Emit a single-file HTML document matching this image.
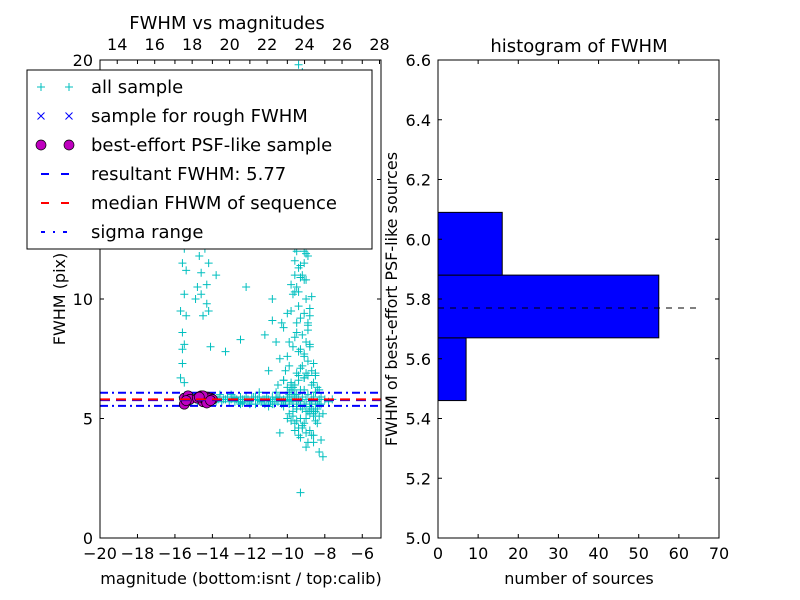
<!DOCTYPE html>
<html><head><meta charset="utf-8"><style>
body{margin:0;background:#fff;}
svg{display:block;font-family:"DejaVu Sans","Liberation Sans",sans-serif;}
</style></head><body>
<svg id="c" width="800" height="600"></svg>
<script>
// scatter data: all sample (magnitude, fwhm)
const allMag = [
-15.6,-15.5,-15.4,-15.3,-15.2,-15.1,-15.0,-14.9,-14.8,-14.7,-14.6,-14.5,-14.4,-14.3,-14.2,-14.1,-14.0,-13.9,-13.8,-13.7,-13.6,-13.5,-13.4,-13.3,-13.2,-13.1,-13.0,-12.9,-12.8,-12.7,-12.6,-12.5,-12.4,-12.3,-12.2,-12.1,-12.0,-11.9,-11.8,-11.7,-11.6,-11.5,-11.4,-11.3,-11.2,-11.1,-11.0,-10.9,-10.8,-10.7,-10.6,-10.5,-10.4,-10.3,-10.2,-10.1,-10.0,-9.9,-9.8,-9.7,-9.6,-9.5,-9.4,-9.3,-9.2,-9.1,-9.0,-8.9,-8.8,-8.7,-8.6,-8.5,-8.4,-8.3,-8.2,-8.0,-7.8,-7.6,
-13.6,-13.0,-12.5,-12.0,-11.5,-11.0,-10.6,-10.2,-9.8,-9.5,-9.1,-8.8,-8.5,-8.2,
-15.7,-15.6,-15.5,-15.6,-15.7,-15.5,-15.4,-15.6,-15.5,-15.3,-15.6,-15.4,-15.5,
-14.9,-14.8,-14.6,-14.7,-14.5,-14.4,-14.6,-14.3,-14.5,-14.2,-14.4,-14.1,-14.3,-14.6,-14.0,-13.8,-14.2,
-13.3,-12.2,-10.8,-11.6,-12.5,-11.2,
-10.3,-10.1,-10.0,-9.9,-9.8,-9.7,-9.6,-9.5,-9.4,-9.3,-9.2,-9.1,-9.0,-8.9,-8.8,-8.7,-8.6,-8.5,
-10.4,-10.2,-10.0,-9.8,-9.6,-9.4,-9.2,-9.0,-8.8,-8.6,-8.4,
-10.2,-9.9,-9.7,-9.5,-9.3,-9.1,-8.9,-8.7,-8.5,-8.3,
-10.0,-9.8,-9.6,-9.4,-9.2,-9.0,-8.8,-8.6,
-9.9,-9.7,-9.5,-9.3,-9.1,-8.9,-8.7,
-9.8,-9.6,-9.4,-9.2,-9.0,-9.7,-9.5,-9.3,-9.6,-9.4,-9.5,-9.3,-9.4,-9.2,-9.6,
-10.6,-10.8,-10.5,-11.0,-10.4,
-9.6,-9.4,-9.2,-9.0,-8.8,-8.6,-8.4,-8.2,-9.3,-8.9,-8.5,-9.8,-8.3,-8.6,-9.0,-8.1,
-9.3,-8.3,-8.6,-9.0,-8.7,-8.9,-10.6,-10.2,
-9.5,-9.3,-9.1,-8.9,-9.4,-9.2,-9.0,-8.8,-9.6,-9.3,-9.1,-8.9,-9.5,-9.2,-9.0,-8.8,-9.4,-9.1,-8.9,-8.7,
-9.5,-9.3,-9.1,-9.4,-9.2,-9.0,-9.3,-9.1,-8.9,-9.2,-9.0,-9.4,-9.2,-9.3,-9.1,-9.5,-9.3,-9.6,-9.4,-9.7,
-9.8,-9.6,-9.9,-9.7,-10.0,-9.8,-9.5,-9.7,-9.4,-9.6,
-12.6,-12.3,-12.0,-11.7,-11.4,-11.1,-10.8,-10.5,-10.2,-9.9,-12.8,-12.4,-11.9,-11.5,-11.2,-10.9,-10.6,-10.3,-10.0,-9.7,
-8.7,-8.5,-8.3,-8.1,-8.8,-8.6,-8.4,-9.0,-8.7,-8.5,
-9.9,-9.6,-9.3,-9.1,-9.4,-9.2,-9.5,-9.3,-9.7,-9.0
];
const allFwhm = [
5.9,5.8,5.7,5.9,5.8,5.7,5.9,5.8,5.7,5.8,5.9,5.8,5.7,5.9,5.8,5.7,5.8,5.9,5.7,5.8,5.9,5.7,5.8,5.8,5.9,5.7,5.8,5.9,5.7,5.8,5.7,5.9,5.8,5.7,5.9,5.8,5.7,5.8,5.9,5.6,5.8,5.9,5.7,5.8,5.6,5.9,5.8,5.7,5.9,5.6,5.8,5.7,5.9,5.6,5.8,5.7,5.9,5.6,5.8,5.7,6.0,5.6,5.8,5.7,5.9,5.6,5.8,6.0,5.7,5.8,5.9,5.6,5.7,5.8,5.9,5.8,5.7,5.8,
6.0,6.0,5.6,5.6,6.1,5.5,6.1,5.5,6.2,5.4,6.2,5.5,6.1,5.6,
6.7,7.3,8.1,8.6,9.5,10.2,11.2,11.5,12.1,12.5,7.9,9.3,6.5,
10.0,10.5,11.1,11.8,12.4,12.9,13.0,10.6,9.3,11.5,12.1,8.0,9.8,10.2,12.6,11.0,
9.5,7.8,10.5,10.0,12.4,8.3,
8.5,9.0,7.0,7.6,8.2,9.5,10.2,11.0,12.0,13.0,14.0,15.0,11.5,10.0,9.0,8.0,7.0,6.5,
6.8,7.5,8.8,9.4,10.6,11.6,12.5,13.5,10.8,9.6,7.3,
6.3,6.6,7.2,8.0,8.6,9.2,7.7,6.8,6.4,6.9,
5.1,5.0,4.9,4.8,4.6,4.7,5.0,5.2,
5.3,5.2,5.1,4.9,5.0,4.8,5.3,
16.0,17.0,18.0,19.0,19.5,14.5,15.5,16.5,17.5,18.5,19.8,13.5,12.8,14.8,16.8,
10.3,8.2,9.1,6.4,7.0,
4.4,4.5,4.3,4.6,4.4,4.5,4.3,4.8,4.1,4.2,4.0,4.9,6.4,6.2,5.2,5.5,
3.4,1.9,3.6,4.0,3.8,4.3,11.8,12.5,
6.6,6.9,7.1,6.7,7.4,7.8,7.2,6.9,8.1,8.4,7.9,7.6,8.7,9.0,8.5,8.2,9.3,9.7,9.4,8.9,
10.1,10.5,10.9,10.8,11.3,11.0,11.9,12.3,12.0,12.8,12.6,13.4,13.8,14.3,14.6,13.1,15.2,11.4,12.1,10.3,
6.2,6.4,5.9,6.1,5.8,6.3,6.5,6.0,6.3,6.6,
5.9,5.7,5.8,5.6,5.9,5.7,5.8,5.6,5.9,5.7,5.75,5.85,5.65,5.9,5.75,5.8,5.7,5.85,5.75,5.9,
5.5,5.4,5.3,5.6,5.2,5.5,5.1,5.4,5.3,5.6,
6.1,6.0,6.4,6.2,6.7,6.8,5.4,5.5,5.5,5.3
];
// best-effort PSF-like sample
const psfMag = [-15.5,-15.4,-15.3,-15.5,-15.2,-14.8,-14.6,-14.5,-14.4,-14.3,-14.2,-14.1,-14.0,-14.5,-14.3,-14.1,-15.4,-14.7];
const psfFwhm = [5.85,5.7,5.95,5.6,5.8,5.85,5.95,5.7,5.8,5.9,5.75,5.85,5.8,5.95,5.65,5.75,5.75,5.9];
const resultFwhm = 5.77, medianFwhm = 5.80, sigmaLow = 5.53, sigmaHigh = 6.08;
// histogram
const binLo = [5.46, 5.67, 5.88];
const binHi = [5.67, 5.88, 6.09];
const binCount = [7, 55, 16];
const leftXTicks = [-20,-18,-16,-14,-12,-10,-8,-6];
const leftXTickLabels = ["\u221220","\u221218","\u221216","\u221214","\u221212","\u221210","\u22128","\u22126"];
const leftYTicks = [0,5,10,15,20];
const topTicks = [14,16,18,20,22,24,26,28];
const rightXTicks = [0,10,20,30,40,50,60,70];
const rightYTicks = [5.0,5.2,5.4,5.6,5.8,6.0,6.2,6.4,6.6];

const NS="http://www.w3.org/2000/svg";
const svg=document.getElementById('c');
function el(t,a,p){const e=document.createElementNS(NS,t);for(const k in a)e.setAttribute(k,a[k]);(p||svg).appendChild(e);return e;}
const L={x0:100,x1:381,y0:538,y1:60};
const lx=v=>L.x0+(v+20)/15*(L.x1-L.x0);
const ly=v=>L.y0-v/20*(L.y0-L.y1);
const tx=v=>L.x0+(v-13.08)/15*(L.x1-L.x0);
const R={x0:438,x1:719,y0:538,y1:60};
const rx=v=>R.x0+v/70*(R.x1-R.x0);
const ry=v=>R.y0-(v-5.0)/1.6*(R.y0-R.y1);

const clipL=el('clipPath',{id:'cl'});el('rect',{x:L.x0,y:L.y1,width:L.x1-L.x0,height:L.y0-L.y1},clipL);
const gL=el('g',{'clip-path':'url(#cl)'});


for(let i=0;i<allMag.length;i++){
  const x=lx(allMag[i]),y=ly(allFwhm[i]);
  const p=el('path',{d:`M${x-4},${y}H${x+4}M${x},${y-4}V${y+4}`,stroke:'#00bfbf','stroke-width':1},gL);
  
  
}
function hline(v,color,dash,name){
  const l=el('line',{x1:L.x0,x2:L.x1,y1:ly(v),y2:ly(v),stroke:color,'stroke-width':2,'stroke-dasharray':dash},gL);
  
  
}
hline(sigmaHigh,'#0000ff','8,4,2,4','sigma-high-line');
hline(sigmaLow,'#0000ff','8,4,2,4','sigma-low-line');
for(let i=0;i<psfMag.length;i++){
  const c=el('circle',{cx:lx(psfMag[i]),cy:ly(psfFwhm[i]),r:5,fill:'#bf00bf',stroke:'#000','stroke-width':0.7},gL);
  
  
}
hline(resultFwhm,'#0000ff','10,6','resultant-fwhm-line');
hline(medianFwhm,'#ff0000','10,6','median-fwhm-line');
el('rect',{x:L.x0,y:L.y1,width:L.x1-L.x0,height:L.y0-L.y1,fill:'none',stroke:'#000'});

function txt(x,y,s,size,anchor,name,extra){const t=el('text',Object.assign({x:x,y:y,'font-size':size,'text-anchor':anchor||'middle'},extra||{}));t.textContent=s;return t;}
leftXTicks.forEach((v,i)=>{const x=lx(v);el('path',{d:`M${x},${L.y0}v-4M${x},${L.y1}v4`,stroke:'#000'});txt(x,559,leftXTickLabels[i],16,'middle','x-tick-label');});
leftYTicks.forEach(v=>{const y=ly(v);el('path',{d:`M${L.x0},${y}h4M${L.x1},${y}h-4`,stroke:'#000'});txt(93,y+6,String(v),16,'end','y-tick-label');});
topTicks.forEach(v=>{const x=tx(v);el('path',{d:`M${x},${L.y1}v4`,stroke:'#000'});txt(x,50,String(v),16,'middle','top-tick-label');});
txt(241,584,'magnitude (bottom:isnt / top:calib)',16,'middle','x-axis-title');
txt(65,299,'FWHM (pix)',16,'middle','y-axis-title',{transform:'rotate(-90 65 299)'});
txt(227,29,'FWHM vs magnitudes',18,'middle','left-chart-title');

const lg=el('g',{});
el('rect',{x:27,y:70,width:345,height:179,fill:'#fff',stroke:'#000'},lg);
const items=['all sample','sample for rough FWHM','best-effort PSF-like sample','resultant FWHM: 5.77','median FHWM of sequence','sigma range'];
items.forEach((s,i)=>{
  const y=87+i*29;
  if(i==0){[41,69].forEach(x=>el('path',{d:`M${x-4},${y}h8M${x},${y-4}v8`,stroke:'#00bfbf'},lg));}
  if(i==1){[41,69].forEach(x=>el('path',{d:`M${x-3.5},${y-3.5}l7,7M${x-3.5},${y+3.5}l7,-7`,stroke:'#0000ff'},lg));}
  if(i==2){[41,69].forEach(x=>el('circle',{cx:x,cy:y,r:5,fill:'#bf00bf',stroke:'#000','stroke-width':0.7},lg));}
  if(i==3)el('line',{x1:41,x2:69,y1:y,y2:y,stroke:'#0000ff','stroke-width':2,'stroke-dasharray':'8,12'},lg);
  if(i==4)el('line',{x1:41,x2:69,y1:y,y2:y,stroke:'#ff0000','stroke-width':2,'stroke-dasharray':'8,12'},lg);
  if(i==5)el('line',{x1:41,x2:69,y1:y,y2:y,stroke:'#0000ff','stroke-width':2,'stroke-dasharray':'4,8,2,8'},lg);
  const t=txt(91,y+6,s,18,'start','legend-entry');
  lg.appendChild(t);
});

for(let i=0;i<binCount.length;i++){
  const r=el('rect',{x:rx(0),y:ry(binHi[i]),width:rx(binCount[i])-rx(0),height:ry(binLo[i])-ry(binHi[i]),fill:'#0000ff',stroke:'#000'});
  
  
}
const dl=el('line',{x1:rx(0),x2:rx(65),y1:ry(resultFwhm),y2:ry(resultFwhm),stroke:'#000','stroke-dasharray':'6,6'});


el('rect',{x:R.x0,y:R.y1,width:R.x1-R.x0,height:R.y0-R.y1,fill:'none',stroke:'#000'});
rightXTicks.forEach(v=>{const x=rx(v);el('path',{d:`M${x},${R.y0}v-4M${x},${R.y1}v4`,stroke:'#000'});txt(x,559,String(v),16,'middle','hist-x-tick-label');});
rightYTicks.forEach(v=>{const y=ry(v);el('path',{d:`M${R.x0},${y}h4M${R.x1},${y}h-4`,stroke:'#000'});txt(431,y+6,v.toFixed(1),16,'end','hist-y-tick-label');});
txt(579,584,'number of sources',16,'middle','hist-x-axis-title');
txt(397,299,'FWHM of best-effort PSF-like sources',16,'middle','hist-y-axis-title',{transform:'rotate(-90 397 299)'});
txt(579,52,'histogram of FWHM',18,'middle','hist-chart-title');
</script>
</body></html>
